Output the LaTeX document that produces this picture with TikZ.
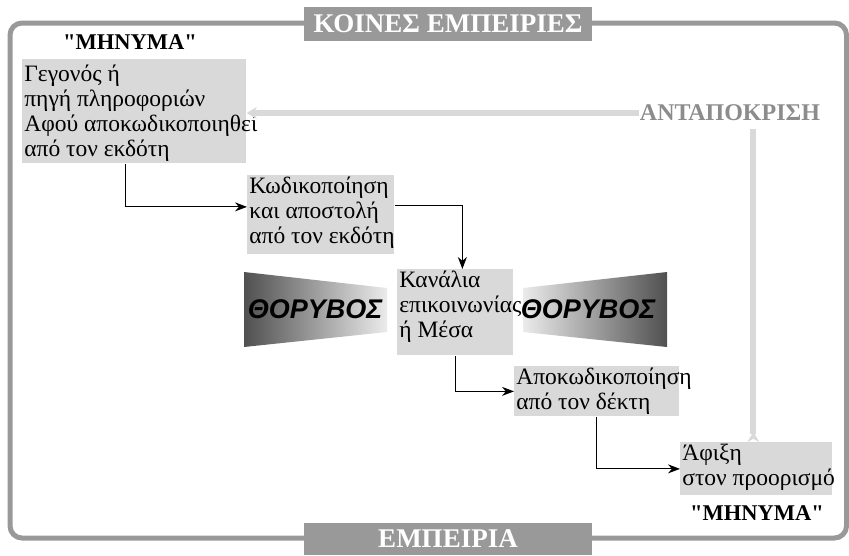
\documentclass[tikz,border=0pt]{standalone}
\usepackage{fontspec}
\setmainfont{Liberation Serif}
\newfontfamily\noisefont{Liberation Sans}
\usetikzlibrary{arrows.meta,positioning}

\definecolor{framegray}{RGB}{153,153,153}
\definecolor{boxgray}{RGB}{217,217,217}
\definecolor{respgray}{RGB}{140,140,140}
\definecolor{noisedark}{RGB}{80,80,80}
\definecolor{noiselight}{RGB}{235,235,235}

\tikzset{every picture/.style={line width=0.75pt}}
\tikzset{
  pbox/.style={fill=boxgray, inner sep=0pt, anchor=north west},
  ptext/.style={anchor=north west, align=left, inner xsep=2pt, inner ysep=2pt, font=\fontsize{23.5}{25}\selectfont},
  titlebox/.style={fill=framegray, text=white, inner sep=0pt, minimum width=288pt, font=\fontsize{27}{27}\selectfont\bfseries},
  msglabel/.style={inner sep=1pt, font=\fontsize{22.5}{22.5}\selectfont\bfseries},
  noiselabel/.style={inner sep=0pt, font=\noisefont\fontsize{27}{27}\selectfont\bfseries\itshape},
  flow/.style={line width=1pt, -{Stealth[length=12pt,width=9pt]}},
  fback/.style={draw=boxgray, line width=6pt},
}

\begin{document}
\begin{tikzpicture}[x=1pt,y=1pt,yscale=-1,xscale=1]
	\useasboundingbox (0,0) rectangle (849,555);
	
	%Shape: Rounded Rectangle 
	\draw [framegray, line width=5pt, rounded corners=12pt] (10,23) rectangle (846.5,538);
	
	%Shape: Rectangle 
	\node [pbox, minimum width=224pt, minimum height=104pt] (src) at (22,59) {};
	%Shape: Rectangle 
	\node [pbox, minimum width=147pt, minimum height=79pt] (enc) at (247,175) {};
	%Shape: Rectangle 
	\node [pbox, minimum width=116pt, minimum height=86pt] (chan) at (397,269) {};
	%Shape: Rectangle 
	\node [pbox, minimum width=165pt, minimum height=50pt] (dec) at (514,366) {};
	%Shape: Rectangle 
	\node [pbox, minimum width=152pt, minimum height=53pt] (dest) at (680,442) {};
	
	%Shape: Trapezoid 
	\shade [left color=noisedark, right color=noiselight] (244,272) -- (387,288) -- (387,332) -- (244,347) -- cycle;
	%Shape: Trapezoid 
	\shade [left color=noiselight, right color=noisedark] (523,288) -- (667,272) -- (667,347) -- (523,332) -- cycle;
	
	% Text Node
	\node [titlebox, minimum height=34pt] (shared) at (448,24) {ΚΟΙΝΕΣ ΕΜΠΕΙΡΙΕΣ};
	% Text Node
	\node [titlebox, minimum height=32pt] (exper) at (448,539) {ΕΜΠΕΙΡΙΑ};
	% Text Node
	\node [msglabel] (msgtop) at (130,42) {\textquotedbl ΜΗΝΥΜΑ\textquotedbl};
	% Text Node
	\node [msglabel] (msgbot) at (757,513) {\textquotedbl ΜΗΝΥΜΑ\textquotedbl};
	% Text Node
	\node [msglabel, font=\fontsize{24}{24}\selectfont\bfseries, text=respgray] (resp) at (730,113) {ΑΝΤΑΠΟΚΡΙΣΗ};
	
	% Text Node
	\node [ptext, yshift=-4pt] (srctext) at (src.north west) {Γεγονός ή\\πηγή πληροφοριών\\Αφού αποκωδικοποιηθεί\\από τον εκδότη};
	% Text Node
	\node [ptext] (enctext) at (enc.north west) {Κωδικοποίηση\\και αποστολή\\από τον εκδότη};
	% Text Node
	\node [ptext] (chantext) at (chan.north west) {Κανάλια\\επικοινωνίας\\ή Μέσα};
	% Text Node
	\node [ptext] (dectext) at (dec.north west) {Αποκωδικοποίηση\\από τον δέκτη};
	% Text Node
	\node [ptext] (desttext) at (dest.north west) {Άφιξη\\στον προορισμό};
	% Text Node
	\node [noiselabel] (noiseL) at (315,309) {ΘΟΡΥΒΟΣ};
	% Text Node
	\node [noiselabel] (noiseR) at (588,309) {ΘΟΡΥΒΟΣ};
	
	%Straight Lines 
	\draw [flow] ([xshift=-9pt]src.south) |- ([yshift=-8pt]enc.west);
	%Straight Lines 
	\draw [flow] ([yshift=-9pt]enc.east) -| ([xshift=7pt]chan.north);
	%Straight Lines 
	\draw [flow] (chan.south) |- (dec.west);
	%Straight Lines 
	\draw [flow] (dec.south) |- (dest.west);
	
	%Straight Lines 
	\draw [fback, -{Stealth[length=10pt,width=12pt]}] (resp.west) -- (resp.west -| src.east);
	%Straight Lines 
	\draw [fback, {Stealth[length=10pt,width=12pt,reversed]}-, shorten >=7pt] ([xshift=-3pt]dest.north) -- ([xshift=-3pt]dest.north |- resp.south);
	
\end{tikzpicture}
\end{document}
